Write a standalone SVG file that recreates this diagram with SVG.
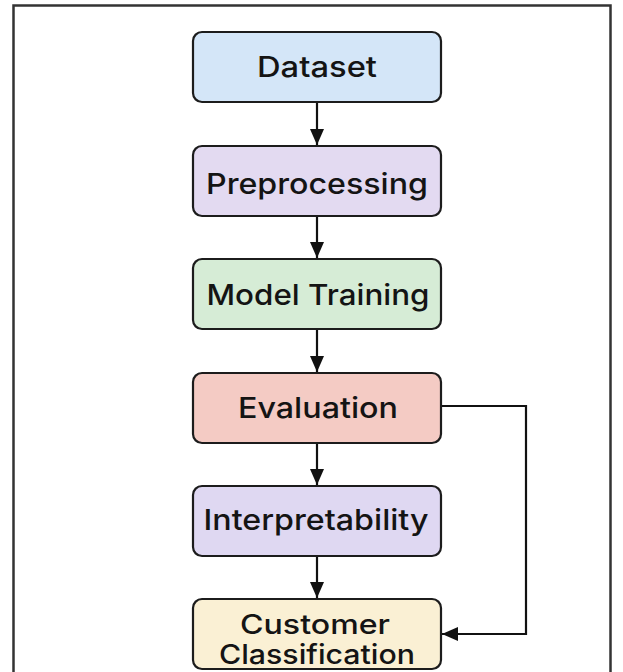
<svg xmlns="http://www.w3.org/2000/svg" width="623" height="672" viewBox="0 0 623 672">
<defs>
<style>
.box{stroke:#1c1c1c;stroke-width:2.2}
.lbl{font-family:Inter,"Liberation Sans",Arial,sans-serif;font-weight:500;font-size:29px;fill:#141414;text-anchor:middle}
.two{font-size:27.5px}
.con{fill:none;stroke:#111;stroke-width:2.2}
</style>
<marker id="ah" viewBox="0 0 16 14" refX="16" refY="7" markerWidth="16" markerHeight="14" markerUnits="userSpaceOnUse" orient="auto">
<path d="M0,0 L16,7 L0,14 Z" fill="#111"/>
</marker>
</defs>
<rect x="0" y="0" width="623" height="672" fill="#fff"/>
<rect x="13.5" y="5.5" width="597" height="680" fill="none" stroke="#333" stroke-width="2.5"/>
<g id="connectors">
<line class="con" x1="317" y1="102" x2="317" y2="145" marker-end="url(#ah)"/>
<line class="con" x1="317" y1="216" x2="317" y2="258" marker-end="url(#ah)"/>
<line class="con" x1="317" y1="329" x2="317" y2="372" marker-end="url(#ah)"/>
<line class="con" x1="317" y1="443" x2="317" y2="485" marker-end="url(#ah)"/>
<line class="con" x1="317" y1="556" x2="317" y2="598" marker-end="url(#ah)"/>
<polyline class="con" points="441,406 526,406 526,634 442,634" marker-end="url(#ah)"/>
</g>
<g id="dataset">
<rect class="box" x="193" y="32" width="248" height="70" rx="9" fill="#d4e6f8"/>
<text class="lbl" x="317" y="77" textLength="120" lengthAdjust="spacingAndGlyphs">Dataset</text>
</g>
<g id="preprocessing">
<rect class="box" x="193" y="146" width="248" height="70" rx="9" fill="#e3daf1"/>
<text class="lbl" x="317" y="194" textLength="222" lengthAdjust="spacingAndGlyphs">Preprocessing</text>
</g>
<g id="model-training">
<rect class="box" x="193" y="259" width="248" height="70" rx="9" fill="#d6ecd6"/>
<text class="lbl" x="318" y="305" textLength="223" lengthAdjust="spacingAndGlyphs">Model Training</text>
</g>
<g id="evaluation">
<rect class="box" x="193" y="373" width="248" height="70" rx="9" fill="#f4cbc4"/>
<text class="lbl" x="318" y="418" textLength="160" lengthAdjust="spacingAndGlyphs">Evaluation</text>
</g>
<g id="interpretability">
<rect class="box" x="193" y="486" width="248" height="70" rx="9" fill="#dfd8f2"/>
<text class="lbl" x="316" y="530" textLength="225" lengthAdjust="spacingAndGlyphs">Interpretability</text>
</g>
<g id="customer-classification">
<rect class="box" x="193" y="599" width="248" height="70" rx="9" fill="#faf0d4"/>
<text class="lbl two" x="315" y="634" textLength="150" lengthAdjust="spacingAndGlyphs">Customer</text>
<text class="lbl two" x="317" y="664" textLength="196" lengthAdjust="spacingAndGlyphs">Classification</text>
</g>
</svg>
